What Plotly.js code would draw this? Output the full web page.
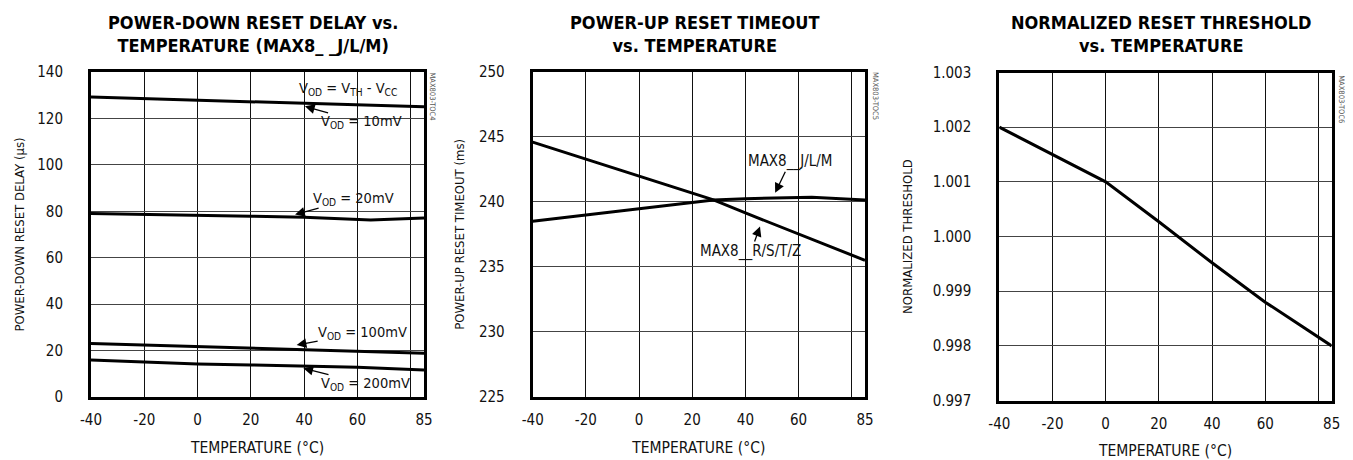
<!DOCTYPE html>
<html>
<head>
<meta charset="utf-8">
<script src="https://cdn.plot.ly/plotly-3.0.1.min.js"></script>
<style>html,body{margin:0;padding:0;background:#fff;}#chart{width:1353px;height:460px;}</style>
</head>
<body>
<div id="chart"></div>
<script>
// ---- data ----
var tempA = [-40, -20, 0, 20, 40, 60, 85];
var vod10 = [129.2, 128.5, 127.8, 127.0, 126.3, 125.6, 125.0];
var tempA20 = [-40, -20, 0, 20, 40, 65, 85];
var vod20 = [79.1, 78.8, 78.4, 77.9, 77.4, 76.2, 77.1];
var vod100 = [23.1, 22.4, 21.7, 21.2, 20.6, 19.6, 18.8];
var vod200 = [15.9, 15.0, 14.2, 13.8, 13.4, 12.8, 11.6];

var tempB = [-40, -20, 0, 20, 28, 40, 60, 85];
var rstz = [244.6, 243.3, 242.0, 240.7, 240.15, 239.15, 237.5, 235.5];
var tempBj = [-40, -20, 0, 20, 28, 40, 65, 85];
var jlm = [238.5, 239.0, 239.5, 239.95, 240.15, 240.25, 240.35, 240.15];

var tempC = [-40, -20, 0, 20, 40, 60, 85];
var thr = [1.002, 1.0015, 1.001, 1.00027, 0.99952, 0.9988, 0.998];

var xTickVals = [-40, -20, 0, 20, 40, 60, 85];
var xTickText = ['-40', '-20', '0', '20', '40', '60', '85'];
var xExtraGrid = [80];
var y1Ticks = [0, 20, 40, 60, 80, 100, 120, 140];
var y2Ticks = [225, 230, 235, 240, 245, 250];
var y3Ticks = [0.997, 0.998, 0.999, 1.000, 1.001, 1.002, 1.003];

var titles = ['POWER-DOWN RESET DELAY vs.<br>TEMPERATURE (MAX8_ _J/L/M)',
              'POWER-UP RESET TIMEOUT<br>vs. TEMPERATURE',
              'NORMALIZED RESET THRESHOLD<br>vs. TEMPERATURE'];
var yTitles = ['POWER-DOWN RESET DELAY (µs)', 'POWER-UP RESET TIMEOUT (ms)', 'NORMALIZED THRESHOLD'];
var sideLabels = ['MAX803-TOC4', 'MAX803-TOC5', 'MAX803-TOC6'];

// ---- styling ----
var FONT = 'DejaVu Sans Condensed, DejaVu Sans, sans-serif';
var W = 1353, H = 460;
function px(x) { return x / W; }
function py(y) { return 1 - y / H; }
var xd = [[px(91), px(424)], [px(532.7), px(865)], [px(999.3), px(1331.7)]];
var yd = [[py(397), py(72)], [py(396.7), py(72)], [py(400.6), py(72.5)]];

var line = {color: '#000', width: 3};
var traces = [
  {x: tempA, y: vod10, xaxis: 'x', yaxis: 'y', mode: 'lines', line: line, name: '10mV'},
  {x: tempA20, y: vod20, xaxis: 'x', yaxis: 'y', mode: 'lines', line: line, name: '20mV'},
  {x: tempA, y: vod100, xaxis: 'x', yaxis: 'y', mode: 'lines', line: line, name: '100mV'},
  {x: tempA, y: vod200, xaxis: 'x', yaxis: 'y', mode: 'lines', line: line, name: '200mV'},
  {x: tempB, y: rstz, xaxis: 'x2', yaxis: 'y2', mode: 'lines', line: line, name: 'R/S/T/Z'},
  {x: tempBj, y: jlm, xaxis: 'x2', yaxis: 'y2', mode: 'lines', line: line, name: 'J/L/M'},
  {x: tempC, y: thr, xaxis: 'x3', yaxis: 'y3', mode: 'lines', line: line, name: 'threshold'}
];

function xAxis(i) {
  return {
    domain: xd[i], anchor: i === 0 ? 'y' : 'y' + (i + 1),
    range: [-40, 85], tickmode: 'array', tickvals: xTickVals, ticktext: xTickText,
    showgrid: true, gridcolor: '#111', gridwidth: 1, zeroline: false,
    minor: {tickmode: 'array', tickvals: xExtraGrid, showgrid: true, gridcolor: '#111', gridwidth: 1, ticks: ''},
    showline: true, linecolor: '#000', linewidth: 3, mirror: true,
    ticks: '', ticklabelstandoff: 7,
    tickfont: {family: FONT, size: 15, color: '#111'},
    title: {text: 'TEMPERATURE (°C)', font: {family: FONT, size: 15.5, color: '#111'}, standoff: 15},
    fixedrange: true
  };
}
function yAxis(i, range, vals, fmt) {
  return {
    domain: yd[i], anchor: i === 0 ? 'x' : 'x' + (i + 1),
    range: range, tickmode: 'array', tickvals: vals, tickformat: fmt,
    showgrid: true, gridcolor: '#444', gridwidth: 1, zeroline: false,
    showline: true, linecolor: '#000', linewidth: 3, mirror: true,
    ticks: '', ticklabelstandoff: 22,
    tickfont: {family: FONT, size: 15, color: '#111'},
    title: {text: yTitles[i], font: {family: FONT, size: 13, color: '#111'}, standoff: [10, 12, 18][i]},
    fixedrange: true
  };
}

var annotations = [];
for (var i = 0; i < 3; i++) {
  annotations.push({
    xref: 'paper', yref: 'paper', x: (xd[i][0] + xd[i][1]) / 2 - px(4), y: py(34),
    xanchor: 'center', yanchor: 'middle', showarrow: false, text: '<b>' + titles[i] + '</b>',
    font: {family: FONT, size: 18, color: '#000'}
  });
}
var sideX = [432.5, 876, 1340.7];
var sideY = [96, 96, 99];
for (var j = 0; j < 3; j++) {
  annotations.push({
    xref: 'paper', yref: 'paper', x: px(sideX[j]), y: py(sideY[j]), showarrow: false,
    text: sideLabels[j], textangle: 90, font: {family: FONT, size: 7.5, color: '#555'},
    xanchor: 'center', yanchor: 'middle'
  });
}
var AF = {family: FONT, size: 14.5, color: '#111'};
var AF2 = {family: FONT, size: 15, color: '#111'};
function arrowNote(xr, yr, x, y, ax, ay, text, f) {
  return {xref: xr, yref: yr, x: x, y: y, ax: ax, ay: ay, text: text, showarrow: true,
    arrowhead: 2, arrowsize: 1.5, arrowwidth: 1.3, arrowcolor: '#000', font: f || AF, standoff: 0,
    borderpad: 0};
}
annotations.push({xref: 'x', yref: 'y', x: 56.5, y: 132.7, showarrow: false,
  text: 'V<sub>OD</sub> = V<sub>TH</sub> - V<sub>CC</sub>', font: AF});
annotations.push(arrowNote('x', 'y', 40.3, 125.2, 57, 16, 'V<sub>OD</sub> = 10mV'));
annotations.push(arrowNote('x', 'y', 36.6, 78.6, 58, -16, 'V<sub>OD</sub> = 20mV'));
annotations.push(arrowNote('x', 'y', 37.2, 22.4, 66, -12, 'V<sub>OD</sub> = 100mV'));
annotations.push(arrowNote('x', 'y', 39.7, 12.4, 62, 16, 'V<sub>OD</sub> = 200mV'));
annotations.push(arrowNote('x2', 'y2', 51.2, 240.7, 15, -31, 'MAX8__J/L/M', AF2));
annotations.push(arrowNote('x2', 'y2', 45.5, 238.1, -9, 25, 'MAX8__R/S/T/Z', AF2));

var layout = {
  width: W, height: H, margin: {l: 0, r: 0, t: 0, b: 0},
  paper_bgcolor: '#fff', plot_bgcolor: '#fff', showlegend: false,
  xaxis: xAxis(0), xaxis2: xAxis(1), xaxis3: xAxis(2),
  yaxis: yAxis(0, [0, 140], y1Ticks, 'd'),
  yaxis2: yAxis(1, [225, 250], y2Ticks, 'd'),
  yaxis3: yAxis(2, [0.997, 1.003], y3Ticks, '.3f'),
  annotations: annotations
};
Plotly.newPlot('chart', traces, layout, {displayModeBar: false, staticPlot: true});
</script>
</body>
</html>
